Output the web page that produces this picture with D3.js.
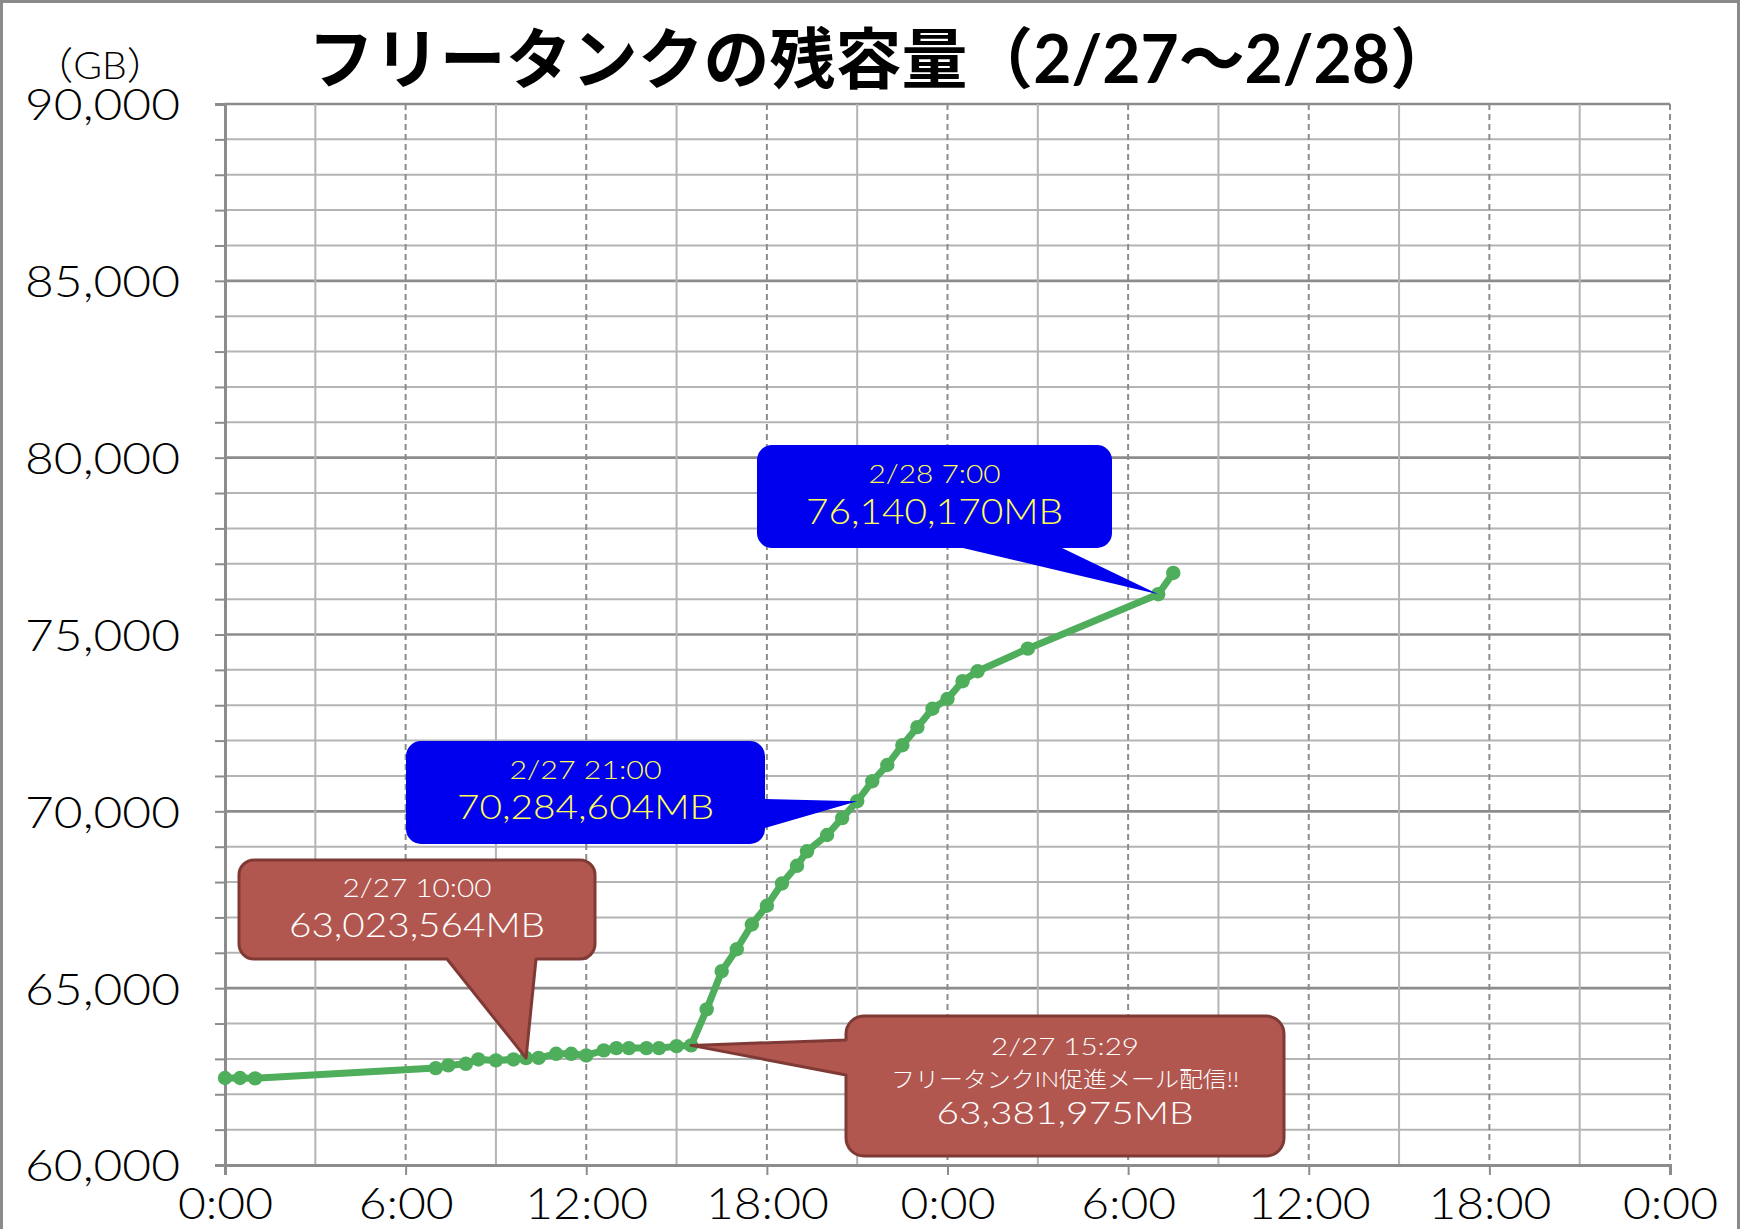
<!DOCTYPE html>
<html><head><meta charset="utf-8">
<script src="https://cdn.jsdelivr.net/npm/d3@7"></script>
<style>
body{margin:0;background:#fff}
svg{display:block}
text{font-family:Lato,Roboto,"Noto Sans CJK JP","Noto Sans",sans-serif}
</style>
</head><body>
<script>
// ---------- data ----------
const times = ["2/27 0:00","2/27 0:30","2/27 1:00","2/27 7:00","2/27 7:25","2/27 8:00","2/27 8:25","2/27 9:00","2/27 9:35","2/27 10:00","2/27 10:25","2/27 11:00","2/27 11:30","2/27 12:00","2/27 12:35","2/27 13:00","2/27 13:25","2/27 14:00","2/27 14:25","2/27 15:00","2/27 15:29","2/27 16:00","2/27 16:30","2/27 17:00","2/27 17:30","2/27 18:00","2/27 18:30","2/27 19:00","2/27 19:20","2/27 20:00","2/27 20:30","2/27 21:00","2/27 21:30","2/27 22:00","2/27 22:30","2/27 23:00","2/27 23:30","2/28 0:00","2/28 0:30","2/28 1:00","2/28 2:40","2/28 7:00","2/28 7:30"];
const valuesGB = [62460,62460,62450,62740,62816,62861,62985,62957,62985,63024,63030,63144,63144,63098,63240,63305,63305,63305,63305,63360,63382,64400,65480,66100,66800,67330,67960,68460,68870,69330,69810,70285,70850,71310,71870,72380,72900,73180,73680,73960,74600,76140,76740];
const xDomain = ["2/27 0:00","3/1 0:00"];
const xTickLabels = ["0:00","6:00","12:00","18:00","0:00","6:00","12:00","18:00","0:00"];
const yTickValues = [60000,65000,70000,75000,80000,85000,90000];
const yDomain = [60000,90000];
const titleText = "フリータンクの残容量（2/27～2/28）";
const unitLabel = "（GB）";
const calloutTimes = ["2/27 10:00","2/27 21:00","2/28 7:00","2/27 15:29"];
const calloutValuesMB = [63023564,70284604,76140170,63381975];
const calloutLines = [
  ["2/27 10:00","63,023,564MB"],
  ["2/27 21:00","70,284,604MB"],
  ["2/28 7:00","76,140,170MB"],
  ["2/27 15:29","フリータンクIN促進メール配信!!","63,381,975MB"]
];

// ---------- layout / style ----------
const W = 1740, H = 1229;
const plot = {left:225, right:1670, top:104, bottom:1165};
const calloutLayout = [
  {x:239,y:860,w:356,h:99,r:15,tail:"bottom",t0:447,t1:536,fill:"#b1574f",stroke:"#7f3a35",color:"#ffffff",sizes:[25,34],base:[37,77],widths:[149,256]},
  {x:406,y:741,w:359,h:103,r:15,tail:"right",t0:799,t1:828,fill:"#0000ee",stroke:null,color:"#ffff55",sizes:[25,34],base:[38,78],widths:[152,257]},
  {x:757,y:445,w:355,h:103,r:15,tail:"bottom",t0:963,t1:1062,fill:"#0000ee",stroke:null,color:"#ffff55",sizes:[25,35],base:[38,79],widths:[132,257]},
  {x:846,y:1016,w:438,h:140,r:18,tail:"left",t0:1040,t1:1075,fill:"#b1574f",stroke:"#7f3a35",color:"#ffffff",sizes:[23,22,32],base:[39,71,108],widths:[148,348,257]}
];
const LIGHT = 300;
const LATIN = 'Lato,Roboto,"Noto Sans CJK JP",sans-serif';
const CJK = '"Noto Sans CJK JP",sans-serif';

function stretch(sel, factor){
  sel.each(function(){
    const n = this.getComputedTextLength();
    if(n>0) d3.select(this).attr("textLength", n*factor).attr("lengthAdjust","spacingAndGlyphs");
  });
}

const parse = d3.timeParse("%m/%d %H:%M");
const data = times.map((t,i)=>({t:parse(t), v:valuesGB[i]}));

const svg = d3.select("body").append("svg").attr("width",W).attr("height",H);
svg.append("rect").attr("width",W).attr("height",H).attr("fill","#fff");
svg.append("rect").attr("x",1.5).attr("y",1.5).attr("width",W-3).attr("height",H+10)
  .attr("fill","none").attr("stroke","#8a8a8a").attr("stroke-width",3);

const x = d3.scaleTime().domain(xDomain.map(parse)).range([plot.left, plot.right]);
const y = d3.scaleLinear().domain(yDomain).range([plot.bottom, plot.top]);

// horizontal grid (every 1000)
const gridY = d3.range(yDomain[0]+1000, yDomain[1]+1, 1000);
svg.append("g").selectAll("line").data(gridY).join("line")
  .attr("x1",plot.left).attr("x2",plot.right)
  .attr("y1",d=>y(d)).attr("y2",d=>y(d))
  .attr("stroke",d=>d%5000===0?"#8c8c8c":"#b4b4b4")
  .attr("stroke-width",d=>d%5000===0?2.6:2);

// vertical grid (every 3h)
const t0 = x.domain()[0];
const gridX = d3.range(3, 49, 3).map(h=>d3.timeHour.offset(t0,h));
svg.append("g").selectAll("line").data(gridX).join("line")
  .attr("x1",d=>x(d)).attr("x2",d=>x(d))
  .attr("y1",plot.top).attr("y2",plot.bottom)
  .attr("stroke",(d,i)=>((i+1)%2===0)?"#8c8c8c":"#b4b4b4")
  .attr("stroke-width",2)
  .attr("stroke-dasharray",(d,i)=>((i+1)%2===0)?"6,4":null);

// y axis
const yTicksMinor = d3.range(yDomain[0], yDomain[1]+1, 1000);
const yAxis = d3.axisLeft(y).tickValues(yTicksMinor).tickSize(10).tickPadding(35)
  .tickFormat(d=>yTickValues.includes(d)?d3.format(",")(d):"");
const gy = svg.append("g").attr("transform",`translate(${plot.left},0)`).call(yAxis);
gy.select(".domain").attr("stroke","#8c8c8c").attr("stroke-width",3);
gy.selectAll(".tick line").attr("stroke","#8c8c8c").attr("stroke-width",2);
gy.selectAll(".tick text").attr("font-size",44).attr("fill","#000")
  .attr("font-family",LATIN).attr("font-weight",LIGHT).attr("dy","0.36em");
{
  const ref = gy.selectAll(".tick text").filter(function(){return this.textContent==="90,000";}).node();
  const k = 155/ref.getComputedTextLength();
  stretch(gy.selectAll(".tick text").filter(function(){return this.textContent!=="";}), k);
}

// x axis
const xTicks = d3.range(0, 49, 6).map(h=>d3.timeHour.offset(t0,h));
const xAxis = d3.axisBottom(x).tickValues(xTicks).tickSize(10).tickPadding(13)
  .tickFormat((d,i)=>xTickLabels[i]);
const gx = svg.append("g").attr("transform",`translate(0,${plot.bottom})`).call(xAxis);
gx.select(".domain").attr("stroke","#8c8c8c").attr("stroke-width",3);
gx.selectAll(".tick line").attr("stroke","#8c8c8c").attr("stroke-width",2);
gx.selectAll(".tick text").attr("font-size",44).attr("fill","#000")
  .attr("font-family",LATIN).attr("font-weight",LIGHT);
{
  const ref = gx.select(".tick text").node();
  const k = 95/ref.getComputedTextLength();
  stretch(gx.selectAll(".tick text"), k);
}

// line + markers
const line = d3.line().x(d=>x(d.t)).y(d=>y(d.v));
svg.append("path").datum(data).attr("d",line).attr("fill","none")
  .attr("stroke","#4fae5c").attr("stroke-width",7).attr("stroke-linejoin","round");
svg.append("g").selectAll("circle").data(data).join("circle")
  .attr("cx",d=>x(d.t)).attr("cy",d=>y(d.v)).attr("r",7.2).attr("fill","#4fae5c");

// callouts
function calloutPath(b, tip){
  const {x:bx,y:by,w,h,r} = b;
  const p = d3.path();
  p.moveTo(bx+r,by);
  p.lineTo(bx+w-r,by);
  p.arcTo(bx+w,by,bx+w,by+r,r);
  if(b.tail==="right"){ p.lineTo(bx+w,b.t0); p.lineTo(tip[0],tip[1]); p.lineTo(bx+w,b.t1); }
  p.lineTo(bx+w,by+h-r);
  p.arcTo(bx+w,by+h,bx+w-r,by+h,r);
  if(b.tail==="bottom"){ p.lineTo(b.t1,by+h); p.lineTo(tip[0],tip[1]); p.lineTo(b.t0,by+h); }
  p.lineTo(bx+r,by+h);
  p.arcTo(bx,by+h,bx,by+h-r,r);
  if(b.tail==="left"){ p.lineTo(bx,b.t1); p.lineTo(tip[0],tip[1]); p.lineTo(bx,b.t0); }
  p.lineTo(bx,by+r);
  p.arcTo(bx,by,bx+r,by,r);
  p.closePath();
  return p.toString();
}
calloutLayout.forEach((b,i)=>{
  const tip = [x(parse(calloutTimes[i])), y(calloutValuesMB[i]/1000)];
  const g = svg.append("g");
  g.append("path").attr("d",calloutPath(b,tip)).attr("fill",b.fill)
    .attr("stroke",b.stroke||"none").attr("stroke-width",b.stroke?3:0).attr("stroke-linejoin","round");
  calloutLines[i].forEach((s,j)=>{
    const isJa = /[\u3000-\u9fff]/.test(s);
    g.append("text").attr("x",b.x+b.w/2).attr("y",b.y+b.base[j])
      .attr("text-anchor","middle").attr("font-size",b.sizes[j]).attr("fill",b.color)
      .attr("font-family", isJa?CJK:LATIN)
      .attr("font-weight",LIGHT)
      .attr("textLength",b.widths[j]).attr("lengthAdjust","spacingAndGlyphs")
      .text(s);
  });
});

// title & unit
svg.append("text").attr("x",882).attr("y",83).attr("text-anchor","middle")
  .attr("font-family",CJK)
  .attr("font-size",66).attr("font-weight",700).attr("fill","#000")
  .attr("textLength",1148).attr("lengthAdjust","spacingAndGlyphs").text(titleText);
svg.append("text").attr("x",100).attr("y",79).attr("text-anchor","middle")
  .attr("font-family",CJK)
  .attr("font-size",38).attr("font-weight",LIGHT).attr("fill","#000")
  .attr("textLength",132).attr("lengthAdjust","spacingAndGlyphs").text(unitLabel);
</script>
</body></html>
